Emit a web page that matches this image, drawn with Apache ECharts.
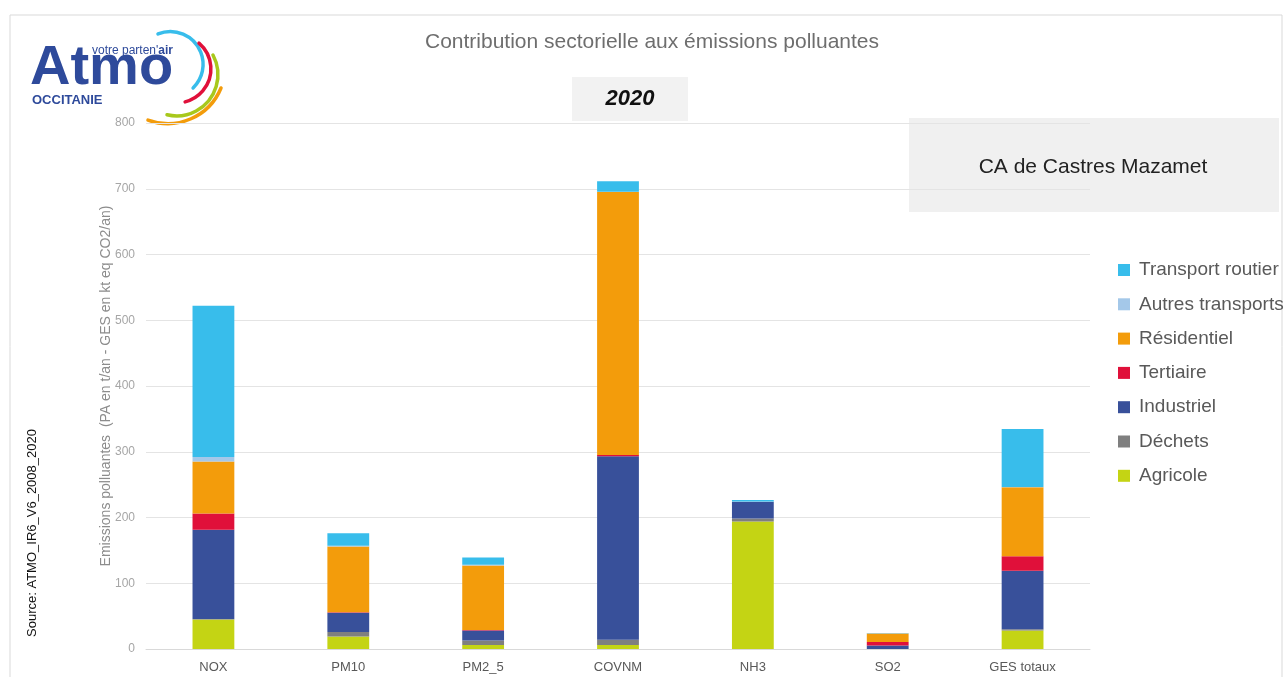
<!DOCTYPE html>
<html>
<head>
<meta charset="utf-8">
<script src="https://cdn.jsdelivr.net/npm/echarts@6/dist/echarts.min.js"></script>
<style>
html,body{margin:0;padding:0;background:#fff;}
#main{width:1285px;height:677px;}
</style>
</head>
<body>
<div id="main"></div>
<script>
// ---- Data ----
const categories = ['NOX', 'PM10', 'PM2_5', 'COVNM', 'NH3', 'SO2', 'GES totaux'];
const agricole        = [45, 19, 6, 6, 194, 0, 28];
const dechets         = [0.5, 7, 7, 8, 4.5, 0, 2];
const industriel      = [136, 29, 15, 279, 25.5, 5.5, 89];
const tertiaire       = [24.5, 1, 1, 2, 0, 5, 22];
const residentiel     = [79, 100, 98, 400, 0, 13, 105];
const autresTransports= [7, 1, 1, 0.5, 0.5, 0.3, 0.5];
const transportRoutier= [230, 19, 11, 16, 2, 0.5, 88];
const yTicks = [0, 100, 200, 300, 400, 500, 600, 700, 800];

const seriesDefs = [
  {name: 'Agricole', data: agricole, color: '#C4D414'},
  {name: 'Déchets', data: dechets, color: '#7F7F7F'},
  {name: 'Industriel', data: industriel, color: '#38509A'},
  {name: 'Tertiaire', data: tertiaire, color: '#E0103A'},
  {name: 'Résidentiel', data: residentiel, color: '#F39C0B'},
  {name: 'Autres transports', data: autresTransports, color: '#A4C8E9'},
  {name: 'Transport routier', data: transportRoutier, color: '#38BDEB'}
];

const deg = Math.PI / 180;
const chart = echarts.init(document.getElementById('main'), null, {renderer: 'canvas'});
const option = {
  backgroundColor: '#ffffff',
  animation: false,
  grid: {left: 146, right: 195, top: 123, bottom: 28, containLabel: false},
  xAxis: {
    type: 'category',
    data: categories,
    axisLine: {show: true, lineStyle: {color: '#D9D9D9', width: 1}},
    axisTick: {show: false},
    axisLabel: {color: '#595959', fontSize: 13, fontFamily: 'Liberation Sans', margin: 12}
  },
  yAxis: {
    type: 'value',
    min: yTicks[0],
    max: yTicks[yTicks.length - 1],
    interval: 100,
    name: 'Emissions polluantes  (PA en t/an - GES en kt eq CO2/an)',
    nameLocation: 'middle',
    nameGap: 33,
    nameMoveOverlap: false,
    nameTextStyle: {color: '#8C8C8C', fontSize: 14, fontFamily: 'Liberation Sans'},
    axisLine: {show: false},
    axisTick: {show: false},
    axisLabel: {color: '#A6A6A6', fontSize: 12, fontFamily: 'Liberation Sans', margin: 11},
    splitLine: {lineStyle: {color: '#E4E4E4', width: 1}}
  },
  legend: {
    orient: 'vertical',
    left: 1113,
    top: 255,
    itemWidth: 12,
    itemHeight: 12,
    itemGap: 14.3,
    icon: 'rect',
    data: ['Transport routier', 'Autres transports', 'Résidentiel', 'Tertiaire', 'Industriel', 'Déchets', 'Agricole'],
    textStyle: {color: '#595959', fontSize: 19, fontFamily: 'Liberation Sans', lineHeight: 20, padding: [0, 0, 0, 4]}
  },
  series: seriesDefs.map(s => ({
    name: s.name,
    type: 'bar',
    stack: 'total',
    data: s.data,
    barWidth: '31%',
    itemStyle: {color: s.color},
    emphasis: {disabled: true}
  })),
  graphic: [
    {type: 'rect', shape: {x: 10, y: 15, width: 1272, height: 700}, style: {fill: 'none', stroke: '#D9D9D9', lineWidth: 1}, z: -10},
    {type: 'text', style: {x: 652, y: 42, text: 'Contribution sectorielle aux émissions polluantes', fill: '#6E6E6E', font: '21px "Liberation Sans"', textAlign: 'center', textVerticalAlign: 'middle'}},
    {type: 'rect', shape: {x: 572, y: 77, width: 116, height: 44}, style: {fill: '#F2F2F2'}},
    {type: 'text', style: {x: 630, y: 99, text: '2020', fill: '#111', font: 'italic bold 22px "Liberation Sans"', textAlign: 'center', textVerticalAlign: 'middle'}},
    {type: 'rect', shape: {x: 909, y: 118, width: 370, height: 94}, style: {fill: '#F0F0F0'}},
    {type: 'text', style: {x: 1093, y: 167, text: 'CA de Castres Mazamet', fill: '#222', font: '21px "Liberation Sans"', textAlign: 'center', textVerticalAlign: 'middle'}},
    {type: 'text', rotation: Math.PI / 2, x: 32, y: 533, style: {x: 0, y: 0, text: 'Source: ATMO_IR6_V6_2008_2020', fill: '#111', font: '13px "Liberation Sans"', textAlign: 'center', textVerticalAlign: 'middle'}},
    // logo
    {type: 'text', style: {x: 30, y: 97, text: 'Atmo', fill: '#2E4A9B', font: 'bold 56px "Liberation Sans"', textAlign: 'left', textVerticalAlign: 'bottom'}},
    {type: 'text', style: {x: 92, y: 51, text: "{a|votre parten'}{b|air}", textAlign: 'left', textVerticalAlign: 'middle',
      rich: {a: {fill: '#2E4A9B', fontSize: 12, fontFamily: 'Liberation Sans'}, b: {fill: '#2E4A9B', fontSize: 12, fontWeight: 'bold', fontFamily: 'Liberation Sans'}}}},
    {type: 'text', style: {x: 32, y: 100, text: 'OCCITANIE', fill: '#2E4A9B', font: 'bold 13px "Liberation Sans"', textAlign: 'left', textVerticalAlign: 'middle'}},
    {type: 'arc', shape: {cx: 170.3, cy: 64.4, r: 32.8, startAngle: -112 * deg, endAngle: 46 * deg, clockwise: true}, style: {stroke: '#38BDEB', lineWidth: 3.5, fill: null, lineCap: 'round'}},
    {type: 'arc', shape: {cx: 176.9, cy: 68.9, r: 34, startAngle: -49.5 * deg, endAngle: 76 * deg, clockwise: true}, style: {stroke: '#E0103A', lineWidth: 3.5, fill: null, lineCap: 'round'}},
    {type: 'arc', shape: {cx: 176.6, cy: 74.6, r: 41.3, startAngle: -28.3 * deg, endAngle: 103.4 * deg, clockwise: true}, style: {stroke: '#A8C81C', lineWidth: 3.5, fill: null, lineCap: 'round'}},
    {type: 'arc', shape: {cx: 167.9, cy: 66.2, r: 57.4, startAngle: 22.3 * deg, endAngle: 110.3 * deg, clockwise: true}, style: {stroke: '#F39C0B', lineWidth: 3.5, fill: null, lineCap: 'round'}}
  ]
};
chart.setOption(option);
</script>
</body>
</html>
